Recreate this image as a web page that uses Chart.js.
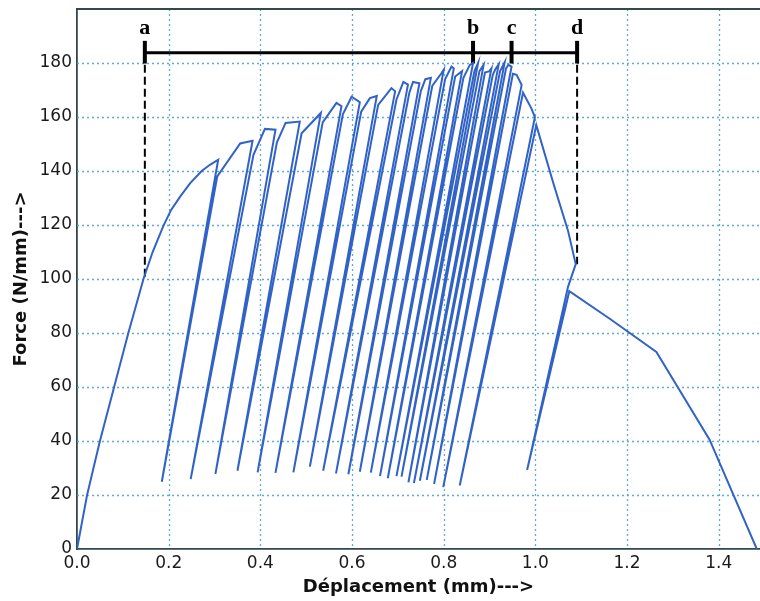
<!DOCTYPE html>
<html>
<head>
<meta charset="utf-8">
<script src="https://cdn.jsdelivr.net/npm/chart.js@4.4.0/dist/chart.umd.min.js"></script>
<style>
  html, body { margin: 0; padding: 0; background: #fff; }
  #wrap { width: 760px; height: 601px; }
</style>
</head>
<body>
<div id="wrap"><canvas id="chart" width="760" height="601"></canvas></div>
<script>
// ---- data ----
// first loading branch
const initX = [0, 0.022, 0.05, 0.081, 0.112, 0.145, 0.165, 0.188, 0.205, 0.225, 0.247, 0.272, 0.29];
const initY = [0, 20, 40, 60, 80, 100, 110, 119.5, 125.5, 130.5, 135.5, 140, 142.3];

// cycles: envelope points before the unload, unload start, bottom, reload end
const riseX = [[], [0.356], [0.41], [0.455], [], [0.566], [0.599], [0.639], [0.686], [0.712],
  [0.733], [0.76], [0.795], [0.817], [], [0.857], [], [], [0.9], [0.912], [], [0.941], [0.959],
  [0.991], [1.04, 1.071, 1.088]];
const riseY = [[], [150.2], [155.6], [157.8], [], [165.2], [167.5], [167], [170.7], [173],
  [173], [174], [176.2], [178.7], [], [179.3], [], [], [177], [177.5], [], [179.3], [175.6],
  [163.3], [135, 118, 105.5]];
const unloadX = [0.308, 0.383, 0.433, 0.486, 0.532, 0.577, 0.617, 0.654, 0.694, 0.722,
  0.747, 0.772, 0.8, 0.822, 0.84, 0.864, 0.875, 0.887, 0.904, 0.92, 0.933, 0.948, 0.97, 0.999, 1.071];
const unloadY = [144.2, 151.2, 155.3, 158.3, 161.5, 164, 165.5, 167.8, 169.5, 172,
  172.5, 174.5, 177.5, 178, 177, 180, 180, 179.3, 178, 179.5, 180.3, 178.7, 171.9, 160, 97];
const bottomX = [0.185, 0.248, 0.302, 0.35, 0.394, 0.433, 0.472, 0.508, 0.537, 0.565,
  0.592, 0.617, 0.641, 0.661, 0.678, 0.697, 0.708, 0.723, 0.735, 0.748, 0.763, 0.779, 0.799, 0.835, 0.982];
const bottomY = [24.9, 25.9, 27.8, 29, 28.4, 28.2, 28.4, 30.5, 29, 28,
  27.7, 28.6, 28.3, 27, 26.2, 27, 26.8, 24.7, 24.4, 25.3, 25.6, 24.1, 22.9, 23.5, 29.3];
const reloadX = [0.306, 0.385, 0.436, 0.49, 0.536, 0.58, 0.62, 0.657, 0.697, 0.725,
  0.75, 0.775, 0.803, 0.825, 0.843, 0.867, 0.878, 0.89, 0.907, 0.923, 0.936, 0.951, 0.973, 1.002, 1.074];
const reloadY = [138, 146, 150.5, 154, 158, 161, 162, 164.5, 166.5, 169,
  169.5, 171.5, 174, 175, 174.5, 177, 177, 176.5, 175.5, 177, 178, 176, 169, 157, 95.5];

// softening tail
const tailX = [1.163, 1.264, 1.38, 1.483];
const tailY = [85.2, 73, 40.5, 0];

// annotation a-b-c-d
const markX = [0.148, 0.864, 0.948, 1.091];
const markNames = ["a", "b", "c", "d"];
const bracketY = 183.8;
const markLow = 179.8, markHigh = 188.2;
const markTextY = 190.9;
const dashLowY = [99.5, null, null, 105.5];

// ticks
const xTicks = [0, 0.2, 0.4, 0.6, 0.8, 1.0, 1.2, 1.4];
const yTicks = [0, 20, 40, 60, 80, 100, 120, 140, 160, 180];

// ---- build polyline ----
const curve = [];
initX.forEach((x, i) => curve.push({x, y: initY[i]}));
unloadX.forEach((ux, i) => {
  riseX[i].forEach((x, j) => curve.push({x, y: riseY[i][j]}));
  curve.push({x: ux, y: unloadY[i]});
  curve.push({x: bottomX[i], y: bottomY[i]});
  curve.push({x: reloadX[i], y: reloadY[i]});
});
tailX.forEach((x, i) => curve.push({x, y: tailY[i]}));

const frameColor = "#33474f";
const gridColor = "rgba(80,160,210,0.9)";
const tickFont = {family: "DejaVu Sans", size: 17};
const titleFont = {family: "DejaVu Sans", size: 18, weight: "bold"};

const datasets = [{
  data: curve,
  borderColor: "#3163c6",
  borderWidth: 2,
  pointRadius: 0,
  tension: 0,
  fill: false
}];
// bracket
datasets.push({
  data: [{x: markX[0], y: bracketY}, {x: markX[3], y: bracketY}],
  borderColor: "#000", borderWidth: 3, pointRadius: 0, fill: false
});
markX.forEach((mx, i) => {
  datasets.push({
    data: [{x: mx, y: markLow}, {x: mx, y: markHigh}],
    borderColor: "#000", borderWidth: 4, pointRadius: 0, fill: false
  });
  if (dashLowY[i] !== null) {
    datasets.push({
      data: [{x: mx, y: bracketY}, {x: mx, y: dashLowY[i]}],
      borderColor: "#000", borderWidth: 2, borderDash: [8, 4], pointRadius: 0, fill: false
    });
  }
});

// dotted grid, drawn at the scale ticks
const gridPlugin = {
  id: "dottedGrid",
  beforeDatasetsDraw(chart) {
    const {ctx, chartArea: a, scales: {x, y}} = chart;
    ctx.save();
    ctx.strokeStyle = gridColor;
    ctx.lineWidth = 1.3;
    ctx.setLineDash([2, 3]);
    xTicks.forEach(v => {
      if (v === 0) return;
      const px = Math.round(x.getPixelForValue(v)) + 0.5;
      ctx.beginPath(); ctx.moveTo(px, a.top); ctx.lineTo(px, a.bottom); ctx.stroke();
    });
    yTicks.forEach(v => {
      if (v === 0) return;
      const py = Math.round(y.getPixelForValue(v)) + 0.5;
      ctx.beginPath(); ctx.moveTo(a.left, py); ctx.lineTo(a.right, py); ctx.stroke();
    });
    ctx.restore();
  }
};

const framePlugin = {
  id: "frameAndLetters",
  afterDraw(chart) {
    const {ctx, chartArea, scales: {x, y}} = chart;
    ctx.save();
    ctx.strokeStyle = frameColor;
    ctx.lineWidth = 1.8;
    ctx.beginPath();
    ctx.moveTo(chartArea.left, chartArea.top);
    ctx.lineTo(chartArea.right, chartArea.top);
    ctx.stroke();
    ctx.font = 'bold 22px "Liberation Serif"';
    ctx.fillStyle = "#000";
    ctx.textAlign = "center";
    ctx.textBaseline = "alphabetic";
    markX.forEach((mx, i) => {
      ctx.fillText(markNames[i], x.getPixelForValue(mx), y.getPixelForValue(markTextY));
    });
    ctx.restore();
  }
};

new Chart(document.getElementById("chart"), {
  type: "line",
  data: {datasets},
  options: {
    responsive: false,
    devicePixelRatio: 1,
    animation: false,
    layout: {padding: {top: 9, left: 0, right: 0, bottom: 0}},
    plugins: {legend: {display: false}, tooltip: {enabled: false}},
    scales: {
      x: {
        type: "linear",
        min: 0,
        max: 1.49,
        afterFit: s => { s.height = 52; s.paddingLeft = 0; s.paddingRight = 0; },
        afterBuildTicks: s => { s.ticks = xTicks.map(v => ({value: v})); },
        ticks: {
          callback: v => Number(v).toFixed(1),
          font: tickFont, color: "#1a1a1a", padding: 4, maxRotation: 0, autoSkip: false
        },
        grid: {display: false, drawTicks: false},
        border: {color: frameColor, width: 1.8},
        title: {
          display: true, text: "Déplacement (mm)--->", font: titleFont,
          color: "#111", padding: {top: 0, bottom: 3}
        }
      },
      y: {
        type: "linear",
        min: 0,
        max: 200,
        afterFit: s => { s.width = 77; s.paddingTop = 0; s.paddingBottom = 0; },
        afterBuildTicks: s => { s.ticks = yTicks.map(v => ({value: v})); },
        ticks: {
          callback: v => String(v),
          font: tickFont, color: "#1a1a1a", padding: 5, autoSkip: false
        },
        grid: {display: false, drawTicks: false},
        border: {color: frameColor, width: 1.8},
        title: {
          display: true, text: "Force (N/mm)--->", font: titleFont,
          color: "#111", padding: {top: 11, bottom: 0}
        }
      }
    }
  },
  plugins: [gridPlugin, framePlugin]
});
</script>
</body>
</html>
